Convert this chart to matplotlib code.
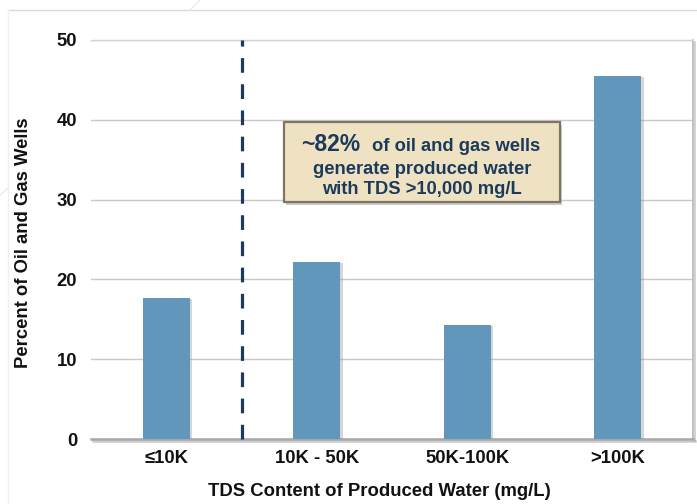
import matplotlib
matplotlib.use("Agg")
import matplotlib.pyplot as plt
import matplotlib.patheffects as pe
from matplotlib.patches import FancyBboxPatch
from matplotlib.lines import Line2D

plt.rcParams['font.family'] = ['Liberation Sans', 'DejaVu Sans']

categories = ["\u226410K", "10K - 50K", "50K-100K", ">100K"]
percent_wells = [17.7, 22.2, 14.3, 45.5]
y_ticks = [0, 10, 20, 30, 40, 50]

bar_color = "#6197BA"
navy = "#1C3A5C"

fig = plt.figure(figsize=(6.97, 5.04), dpi=100)
fig.patch.set_facecolor("white")

# faint slide background rules
fig.add_artist(Line2D([8 / 697, 1.0], [1 - 10 / 504, 1 - 10 / 504], color="#DADADA", lw=1.0))
fig.add_artist(Line2D([8 / 697, 8 / 697], [0, 1 - 10 / 504], color="#F0F0F0", lw=1.0))
fig.add_artist(Line2D([190 / 697, 200 / 697], [1 - 10 / 504, 1.0], color="#E6E6E6", lw=0.8))
fig.add_artist(Line2D([0, 8 / 697], [1 - 195 / 504, 1 - 188 / 504], color="#E6E6E6", lw=0.8))

ax = fig.add_axes([91 / 697, 65 / 504, 602 / 697, 399 / 504])
ax.set_xlim(-0.5, 3.5)
ax.set_ylim(0, 50)

x = range(len(categories))
bars = ax.bar(x, percent_wells, width=0.31, color=bar_color, zorder=3)
for b in bars:
    b.set_path_effects([pe.SimplePatchShadow(offset=(2.0, -1.0), shadow_rgbFace="#8A8A8A", alpha=0.35),
                        pe.Normal()])

ax.set_yticks(y_ticks)
ax.set_xticks(list(x))
ax.set_xticklabels(categories)
ax.tick_params(axis="both", length=0, labelsize=13.3)
ax.tick_params(axis="y", pad=10)
ax.tick_params(axis="x", pad=8)
for lab in ax.get_xticklabels() + ax.get_yticklabels():
    lab.set_fontweight("bold")
    lab.set_color("#111111")

ax.yaxis.grid(True, color="#C9C9C9", lw=1.0, zorder=0)
ax.set_axisbelow(True)

ax.spines["left"].set_visible(False)
ax.spines["top"].set_color("#D4D4D4")
ax.spines["top"].set_linewidth(1.0)
ax.spines["right"].set_color("#B5B5B5")
ax.spines["right"].set_linewidth(1.2)
ax.spines["bottom"].set_color("#A8A8A8")
ax.spines["bottom"].set_linewidth(1.8)
for s in ("right", "bottom"):
    ax.spines[s].set_path_effects([pe.SimpleLineShadow(offset=(1.5, -1.5), shadow_color="#999999", alpha=0.5),
                                   pe.Normal()])

# divider between fresh and saline categories
ax.plot([0.5, 0.5], [0, 50], color=navy, lw=2.3, dashes=[4.6, 3.6], zorder=4, clip_on=False)

ax.set_ylabel("Percent of Oil and Gas Wells", fontsize=13.3, fontweight="bold", color="#111111")
ax.set_xlabel("TDS Content of Produced Water (mg/L)", fontsize=13.3, fontweight="bold", color="#111111")
ax.yaxis.set_label_coords(-68 / 602, 0.491)
ax.xaxis.set_label_coords((379.5 - 91) / 602, -52 / 399)
ax.xaxis.label.set_va("center")
ax.yaxis.label.set_va("center")

# callout box
box = FancyBboxPatch((0.78, 29.7), 1.833, 10.0, boxstyle="square,pad=0",
                     facecolor="#EEE2C3", edgecolor="#7F7563", lw=1.6, zorder=5,
                     path_effects=[pe.SimplePatchShadow(offset=(2, -2), shadow_rgbFace="#999999", alpha=0.5),
                                   pe.Normal()])
ax.add_patch(box)
ax.text(1.29, 36.1, "~82%", ha="right", va="baseline", fontsize=16.5, fontweight="bold", color=navy, zorder=6)
ax.text(1.37, 36.1, "of oil and gas wells", ha="left", va="baseline", fontsize=13.2, fontweight="bold", color=navy, zorder=6)
ax.text(1.70, 33.2, "generate produced water", ha="center", va="baseline", fontsize=13.2, fontweight="bold", color=navy, zorder=6)
ax.text(1.70, 30.7, "with TDS >10,000 mg/L", ha="center", va="baseline", fontsize=13.2, fontweight="bold", color=navy, zorder=6)

fig.savefig("out.png", dpi=100)
